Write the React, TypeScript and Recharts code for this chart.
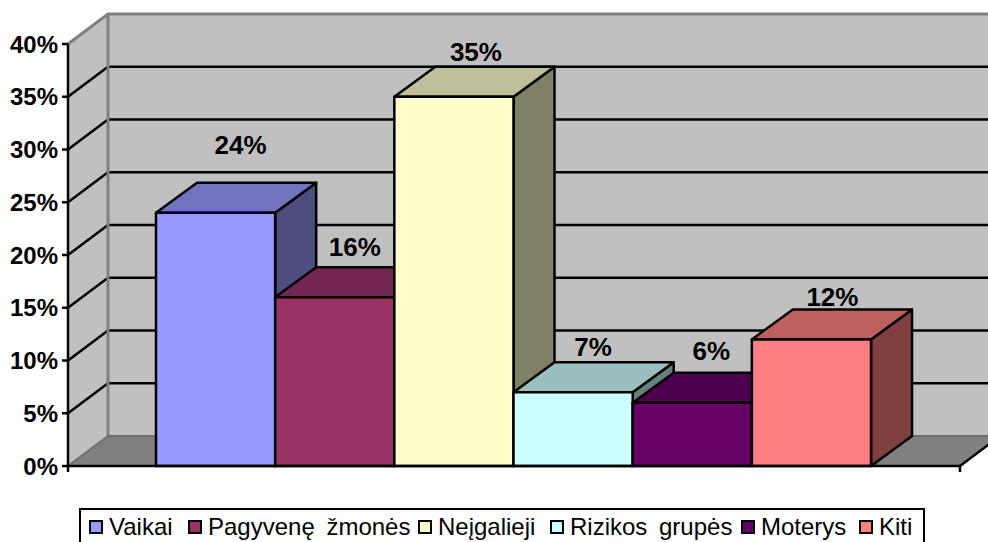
import { BarChart, Bar, XAxis, YAxis, ReferenceArea, Legend } from 'recharts';

const categories = ['Grupės'];
const seriesNames = ['Vaikai', 'Pagyvenę žmonės', 'Neįgalieji', 'Rizikos grupės', 'Moterys', 'Kiti'];
const seriesValues = [24, 16, 35, 7, 6, 12];
const seriesColors = ['#9999FF', '#993366', '#FFFFCC', '#CCFFFF', '#660066', '#FF8080'];
const topColors = ['#7373BF', '#732650', '#BFBF99', '#99BFBF', '#4D004D', '#BF6060'];
const sideColors = ['#4D4D80', '#4D1A33', '#808066', '#668080', '#330033', '#804040'];
const yTicks = [0, 5, 10, 15, 20, 25, 30, 35, 40];

// label nudges from the front face centre / top
const labelShiftX = [25, 20, 22, 20, 19, 21];
const labelShiftY = [-68, -50, -45, -45, -52, -42];
const legendLefts = [8, 107, 337, 469, 660, 778];

const DEPTH_X = 40;
const DEPTH_Y = 30;
const BAR_DEPTH_X = 41;
const LINE = 2.5;

const data = categories.map(name => {
    const row: Record<string, string | number> = { name };
    seriesNames.forEach((s, i) => {
        row[s] = seriesValues[i];
    });
    return row;
});

const pts = (list: number[][]) => list.map(p => p.join(',')).join(' ');

function Box(props: any, i: number) {
    const { x, y, width, height } = props;
    const dx = BAR_DEPTH_X;
    const dy = DEPTH_Y;
    return (
        <g stroke="#000" strokeWidth={LINE} strokeLinejoin="round">
            <polygon
                fill={sideColors[i]}
                points={pts([[x + width, y], [x + width + dx, y - dy], [x + width + dx, y + height - dy], [x + width, y + height]])}
            />
            <polygon
                fill={topColors[i]}
                points={pts([[x, y], [x + dx, y - dy], [x + width + dx, y - dy], [x + width, y]])}
            />
            <rect x={x} y={y} width={width} height={height} fill={seriesColors[i]} />
        </g>
    );
}

function Walls(props: any) {
    const { x, y, width, height } = props;
    const bottom = y + height;
    const right = x + width;
    return (
        <g>
            <polygon fill="#C0C0C0" points={pts([[x, y], [x + DEPTH_X, y - DEPTH_Y], [x + DEPTH_X, bottom - DEPTH_Y], [x, bottom]])} />
            <rect fill="#C0C0C0" x={x + DEPTH_X} y={y - DEPTH_Y} width={width} height={height} />
            <polygon fill="#808080" points={pts([[x, bottom], [x + DEPTH_X, bottom - DEPTH_Y], [right + DEPTH_X, bottom - DEPTH_Y], [right, bottom]])} />
            {yTicks.slice(1, -1).map(t => {
                const ty = bottom - (height * t) / 40;
                return (
                    <polyline
                        key={t}
                        fill="none"
                        stroke="#000"
                        strokeWidth={LINE}
                        points={pts([[x, ty], [x + DEPTH_X, ty - DEPTH_Y], [right + DEPTH_X, ty - DEPTH_Y]])}
                    />
                );
            })}
            <polyline
                fill="none"
                stroke="#808080"
                strokeWidth={3}
                points={pts([[x, y], [x + DEPTH_X, y - DEPTH_Y], [right + DEPTH_X, y - DEPTH_Y]])}
            />
            <line x1={x + DEPTH_X} y1={y - DEPTH_Y} x2={x + DEPTH_X} y2={bottom - DEPTH_Y} stroke="#808080" strokeWidth={3} />
            <polyline fill="none" stroke="#6E6E6E" strokeWidth={2} points={pts([[x, bottom], [x + DEPTH_X, bottom - DEPTH_Y], [right + DEPTH_X, bottom - DEPTH_Y]])} />
            <line x1={right} y1={bottom} x2={right + DEPTH_X} y2={bottom - DEPTH_Y} stroke="#000" strokeWidth={LINE} />
            <line x1={right} y1={bottom} x2={right} y2={bottom + 6} stroke="#000" strokeWidth={LINE} />
            <line x1={x} y1={bottom} x2={x} y2={bottom + 6} stroke="#000" strokeWidth={LINE} />
        </g>
    );
}

function ValueLabel(props: any, i: number) {
    const { x, y, width, value } = props;
    return (
        <text
            x={x + width / 2 + labelShiftX[i]}
            y={y + labelShiftY[i]}
            textAnchor="middle"
            dominantBaseline="central"
            fontFamily="Liberation Sans"
            fontWeight="bold"
            fontSize={26}
            fill="#000"
        >
            {value}%
        </text>
    );
}

function LegendBox() {
    return (
        <div
            style={{
                position: 'relative',
                width: 846,
                height: 44,
                boxSizing: 'border-box',
                border: '2.5px solid #000',
                background: '#fff',
                fontFamily: 'Liberation Sans',
                fontSize: 24,
                wordSpacing: 5,
                color: '#000',
            }}
        >
            {seriesNames.map((s, i) => (
                <div key={s} style={{ position: 'absolute', left: legendLefts[i], top: 3, display: 'flex', alignItems: 'center', whiteSpace: 'nowrap', lineHeight: '27px' }}>
                    <span style={{ width: 14, height: 14, boxSizing: 'border-box', border: '2.5px solid #000', background: seriesColors[i], marginRight: 6 }} />
                    {s}
                </div>
            ))}
        </div>
    );
}

export default function App() {
    return (
        <div style={{ position: 'absolute', left: 0, top: 0, width: 988, height: 542, overflow: 'hidden', background: '#fff' }}>
            <BarChart
                width={988}
                height={542}
                data={data}
                margin={{ top: 44, right: 28, bottom: 0, left: 0 }}
                barSize={119.17}
                barGap={0}
            >
                <ReferenceArea y1={0} y2={40} shape={Walls} ifOverflow="visible" />
                <XAxis dataKey="name" height={76} tick={false} tickLine={false} axisLine={{ stroke: '#000', strokeWidth: LINE }} />
                <YAxis
                    width={68}
                    domain={[0, 40]}
                    ticks={yTicks}
                    interval={0}
                    tickFormatter={v => `${v}%`}
                    tickSize={6}
                    tickMargin={4}
                    tick={{ fill: '#000', fontFamily: 'Liberation Sans', fontWeight: 'bold', fontSize: 24 }}
                    tickLine={{ stroke: '#000', strokeWidth: LINE }}
                    axisLine={{ stroke: '#000', strokeWidth: LINE }}
                />
                {seriesNames.map((s, i) => (
                    <Bar
                        key={s}
                        dataKey={s}
                        fill={seriesColors[i]}
                        isAnimationActive={false}
                        shape={(p: any) => Box(p, i)}
                        label={(p: any) => ValueLabel(p, i)}
                    />
                ))}
                <Legend
                    verticalAlign="middle"
                    layout="horizontal"
                    content={LegendBox}
                    wrapperStyle={{ position: 'absolute', left: 79, top: 508, width: 846, bottom: 'auto', margin: 0 }}
                />
            </BarChart>
        </div>
    );
}
